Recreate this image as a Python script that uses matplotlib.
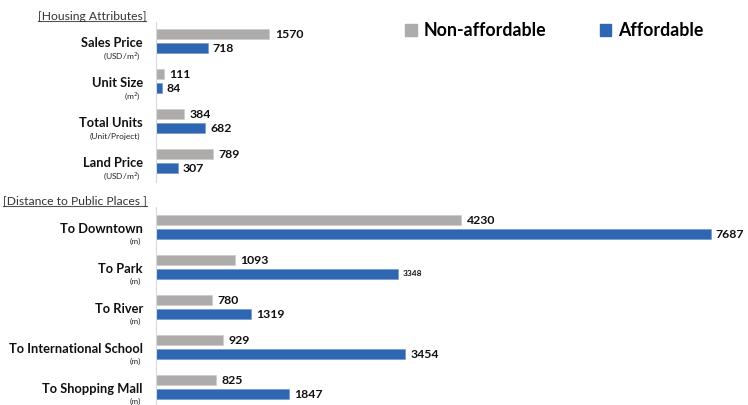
import matplotlib.pyplot as plt
from matplotlib.patches import Patch
from matplotlib.lines import Line2D
import numpy as np

plt.rcParams['font.family'] = ['Lato', 'DejaVu Sans']
plt.rcParams['mathtext.fontset'] = 'custom'
plt.rcParams['mathtext.rm'] = 'Lato'
plt.rcParams['mathtext.bf'] = 'Lato:bold'

# housing attributes
house_cats = ["Sales Price", "Unit Size", "Total Units", "Land Price"]
house_units = ["(USD/m$^2$)", "(m$^2$)", "(Unit/Project)", "(USD/m$^2$)"]
house_nonaff = [1570, 111, 384, 789]
house_aff = [718, 84, 682, 307]

# distance to public places
dist_cats = ["To Downtown", "To Park", "To River", "To International School", "To Shopping Mall"]
dist_units = ["(m)", "(m)", "(m)", "(m)", "(m)"]
dist_nonaff = [4230, 1093, 780, 929, 825]
dist_aff = [7687, 3348, 1319, 3454, 1847]

gray = '#aeabab'
blue = '#2f66b1'
W, H = 748, 405

fig = plt.figure(figsize=(7.48, 4.05), dpi=100)

def panel(top, bottom, cats, units, nonaff, aff, ylim, unit_dy, small=()):
    ax = fig.add_axes([156 / W, 1 - bottom / H, 1 - 156 / W, (bottom - top) / H])
    y = np.arange(len(cats))
    ax.barh(y - 0.175, nonaff, height=0.26, color=gray, edgecolor='#c8c6c6', lw=0.4)
    ax.barh(y + 0.175, aff, height=0.26, color=blue, edgecolor='#6a93cf', lw=0.4)
    ax.set_xlim(0, 8200)
    ax.set_ylim(*ylim)
    for s in ['top', 'right', 'bottom']:
        ax.spines[s].set_visible(False)
    ax.spines['left'].set_color('#d9d9d9')
    ax.spines['left'].set_linewidth(0.8)
    ax.set_xticks([])
    ax.set_yticks([])
    tr = ax.get_yaxis_transform()
    for i in range(len(cats)):
        ax.text(-0.022, i + 0.04, cats[i], transform=tr, ha='right', va='center',
                fontsize=9.3, fontweight='bold', color='#111111')
        ax.text(-0.026, i + unit_dy, units[i], transform=tr, ha='right', va='center',
                fontsize=6, color='#222222')
        ax.annotate(str(nonaff[i]), (nonaff[i], i - 0.175), xytext=(4, 0),
                    textcoords='offset points', va='center', fontsize=8.8,
                    fontweight='bold', color='#111111')
        fs = 6 if aff[i] in small else 8.8
        ax.annotate(str(aff[i]), (aff[i], i + 0.175), xytext=(3.5, 0),
                    textcoords='offset points', va='center', fontsize=fs,
                    fontweight='bold', color='#111111', annotation_clip=False)
    return ax

ax1 = panel(22, 182, house_cats, house_units, house_nonaff, house_aff, (3.525, -0.475), 0.38)
ax2 = panel(207, 405, dist_cats, dist_units, dist_nonaff, dist_aff, (4.45, -0.5), 0.36,
            small=(3348,))

# section headers, underlined
heads = []
heads.append(fig.text(146 / W, 1 - 16 / H, "[Housing Attributes]", fontsize=8.7,
                      color='#333333', va='center', ha='right'))
heads.append(fig.text(147 / W, 1 - 201 / H, "[Distance to Public Places ]", fontsize=8.7,
                      color='#333333', va='center', ha='right'))
fig.canvas.draw()
r = fig.canvas.get_renderer()
for t in heads:
    bb = t.get_window_extent(r)
    yl = (bb.y0 + 0.5) / H
    fig.add_artist(Line2D([bb.x0 / W, bb.x1 / W], [yl, yl], color='#555555', lw=0.8))

handles = [Patch(color=gray), Patch(color=blue)]
fig.legend(handles, ["Non-affordable", "Affordable"], ncol=2, frameon=False,
           loc='center left', bbox_to_anchor=(398 / W, 1 - 31 / H),
           prop={'size': 12.8, 'weight': 'bold'}, handlelength=0.65, handleheight=0.65,
           handletextpad=0.4, columnspacing=3.0, borderaxespad=0)

fig.savefig('out.png', dpi=100)
